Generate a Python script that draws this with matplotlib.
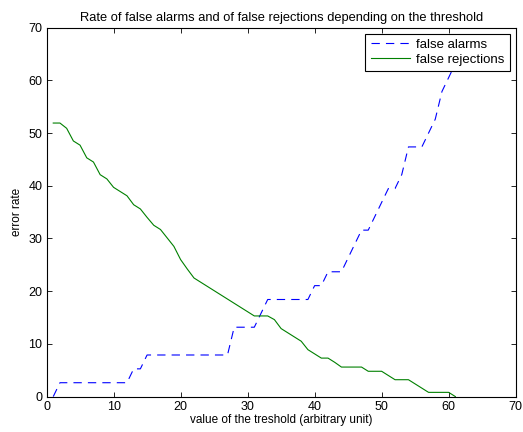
import numpy as np
import matplotlib
matplotlib.use("Agg")
import matplotlib.pyplot as plt

# threshold values
thresholds = list(range(1, 62))

# false alarm rate (%)
false_alarms = [
    0.0, 2.63, 2.63, 2.63, 2.63, 2.63, 2.63, 2.63, 2.63, 2.63,
    2.63, 2.63, 5.26, 5.26, 7.89, 7.89, 7.89, 7.89, 7.89, 7.89,
    7.89, 7.89, 7.89, 7.89, 7.89, 7.89, 7.89, 13.16, 13.16, 13.16,
    13.16, 15.79, 18.42, 18.42, 18.42, 18.42, 18.42, 18.42, 18.42, 21.05,
    21.05, 23.68, 23.68, 23.68, 26.32, 28.95, 31.58, 31.58, 34.21, 36.84,
    39.47, 39.47, 42.11, 47.37, 47.37, 47.37, 50.0, 52.63, 57.89, 60.53,
    63.16,
]

# false rejection rate (%)
false_rejections = [
    51.9, 51.9, 50.9, 48.5, 47.7, 45.3, 44.5, 42.1, 41.3, 39.7,
    38.9, 38.1, 36.4, 35.6, 34.0, 32.5, 31.7, 30.1, 28.5, 26.0,
    24.2, 22.5, 21.7, 20.9, 20.1, 19.3, 18.5, 17.7, 16.9, 16.1,
    15.3, 15.3, 15.3, 14.6, 12.9, 12.1, 11.3, 10.5, 8.9, 8.1,
    7.3, 7.3, 6.5, 5.6, 5.6, 5.6, 5.6, 4.8, 4.8, 4.8,
    4.0, 3.2, 3.2, 3.2, 2.4, 1.6, 0.8, 0.8, 0.8, 0.8,
    0.0,
]

plt.rcParams['font.family'] = ['Liberation Sans', 'DejaVu Sans']
plt.rcParams['font.size'] = 9

fig = plt.figure(figsize=(5.23, 4.32), dpi=100)
ax = fig.add_axes([0.089, 0.082, 0.897, 0.854])

ax.plot(thresholds, false_alarms, color='#0000ff', linewidth=0.8,
        linestyle=(0, (7.5, 5.5)), label='false alarms')
ax.plot(thresholds, false_rejections, color='#008000', linewidth=0.8,
        label='false rejections')

ax.set_xlim(0, 70)
ax.set_ylim(0, 70)
ax.set_xticks(np.arange(0, 71, 10))
ax.set_yticks(np.arange(0, 71, 10))
ax.tick_params(direction='in', length=3.5, width=0.6, top=True, right=True,
               labelsize=9, pad=3)
for sp in ax.spines.values():
    sp.set_linewidth(0.8)

ax.set_title('Rate of false alarms and of false rejections depending on the threshold',
             fontsize=9.3, pad=5)
ax.set_xlabel('value of the treshold (arbitrary unit)', fontsize=8.5, labelpad=1)
ax.set_ylabel('error rate', fontsize=8.5, labelpad=4)

leg = ax.legend(loc='upper right', fancybox=False, framealpha=1, edgecolor='black',
                handlelength=3.0, handletextpad=0.45, labelspacing=0.2,
                borderpad=0.4, borderaxespad=0.45, fontsize=9.5)
leg.get_frame().set_linewidth(0.8)

fig.savefig('out.png', dpi=100)
